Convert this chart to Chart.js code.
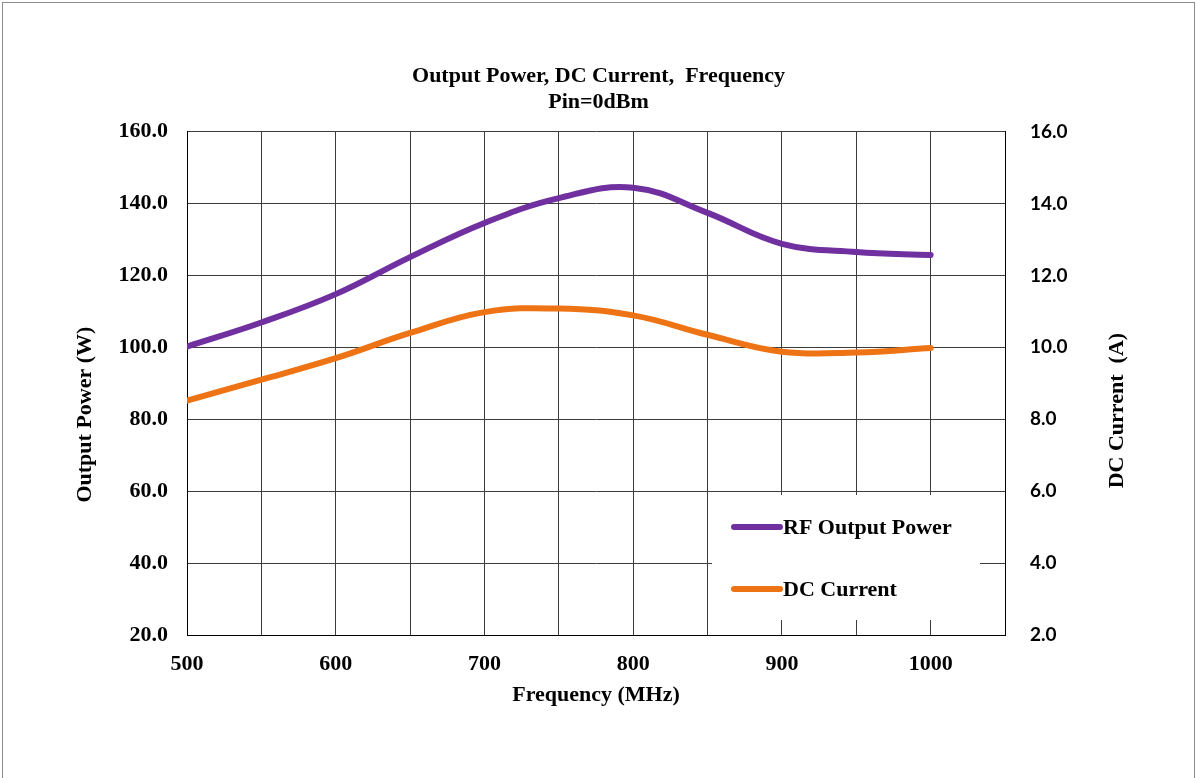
<!DOCTYPE html>
<html>
<head>
<meta charset="utf-8">
<script src="https://cdn.jsdelivr.net/npm/chart.js@4.4.0/dist/chart.umd.min.js"></script>
<style>
html, body { margin: 0; padding: 0; background: #fff; }
#wrap { position: relative; width: 1197px; height: 778px; overflow: hidden; }
#frame { position: absolute; left: 2px; top: 2px; width: 1191px; height: 800px; border: 1px solid #8c8c8c; pointer-events: none; }
</style>
</head>
<body>
<div id="wrap">
    <canvas id="chart" width="1197" height="778"></canvas>
    <div id="frame"></div>
</div>
<script>
// values, 50 MHz steps
const freqs = [500, 550, 600, 650, 700, 750, 800, 850, 900, 950, 1000];
const rfPower = [100.2, 106.9, 114.8, 125.1, 134.6, 141.5, 144.4, 137.4, 128.8, 126.5, 125.7];
const dcCurrent = [8.52, 9.10, 9.70, 10.40, 10.98, 11.08, 10.89, 10.35, 9.88, 9.86, 9.98];

const titleLines = ['Output Power, DC Current,  Frequency', 'Pin=0dBm'];
const xTitle = 'Frequency (MHz)';
const yTitle = 'Output Power (W)';
const y2Title = 'DC Current  (A)';
const seriesNames = ['RF Output Power', 'DC Current'];
const seriesColors = ['#7030A0', '#EE7314'];

const serif = 'Liberation Serif, Times New Roman, serif';
const gridColor = '#3c3c3c';

// legend box inside the plot and axis titles that read bottom-to-top
const extras = {
    id: 'extras',
    afterDraw(chart) {
        const ctx = chart.ctx;
        const ca = chart.chartArea;
        ctx.save();

        const bx = ca.right - 293, by = ca.bottom - 140;
        ctx.fillStyle = '#fff';
        ctx.fillRect(bx, by, 268, 125);

        ctx.font = 'bold 22px ' + serif;
        ctx.textBaseline = 'middle';
        ctx.textAlign = 'left';
        chart.data.datasets.forEach((ds, i) => {
            const ly = by + 32 + i * 62;
            ctx.strokeStyle = ds.borderColor;
            ctx.lineWidth = 6;
            ctx.lineCap = 'round';
            ctx.beginPath();
            ctx.moveTo(bx + 22, ly);
            ctx.lineTo(bx + 68, ly);
            ctx.stroke();
            ctx.fillStyle = '#000';
            ctx.fillText(ds.label, bx + 71, ly + 1);
        });

        ctx.textAlign = 'center';
        ctx.save();
        ctx.translate(ca.left - 102, ca.top + 283);
        ctx.rotate(-Math.PI / 2);
        ctx.fillText(yTitle, 0, 0);
        ctx.restore();

        ctx.save();
        ctx.translate(ca.right + 112, ca.top + 279);
        ctx.rotate(-Math.PI / 2);
        ctx.fillText(y2Title, 0, 0);
        ctx.restore();

        ctx.restore();
    }
};

const ctx = document.getElementById('chart').getContext('2d');
new Chart(ctx, {
    type: 'line',
    data: {
        datasets: [{
            label: seriesNames[0],
            data: freqs.map((f, i) => ({ x: f, y: rfPower[i] })),
            borderColor: seriesColors[0],
            borderWidth: 6,
            borderCapStyle: 'round',
            pointRadius: 0,
            tension: 0.4,
            yAxisID: 'y'
        }, {
            label: seriesNames[1],
            data: freqs.map((f, i) => ({ x: f, y: dcCurrent[i] })),
            borderColor: seriesColors[1],
            borderWidth: 6,
            borderCapStyle: 'round',
            pointRadius: 0,
            tension: 0.4,
            yAxisID: 'y2'
        }]
    },
    options: {
        responsive: false,
        animation: false,
        layout: { padding: 0 },
        plugins: {
            legend: { display: false },
            tooltip: { enabled: false },
            title: {
                display: true,
                text: titleLines,
                color: '#000',
                font: { family: serif, size: 22, weight: 'bold', lineHeight: 1.15 },
                padding: { top: 64, bottom: 17 }
            }
        },
        scales: {
            x: {
                type: 'linear',
                min: 500,
                max: 1050,
                grid: { color: gridColor, lineWidth: 1, drawTicks: false },
                border: { color: '#000', width: 1 },
                ticks: {
                    stepSize: 50,
                    autoSkip: false,
                    maxRotation: 0,
                    padding: 16,
                    color: '#000',
                    font: { family: serif, size: 22, weight: 'bold' },
                    callback: v => (v % 100 === 0 && v <= 1000) ? String(v) : ''
                },
                title: {
                    display: true,
                    text: xTitle,
                    color: '#000',
                    font: { family: serif, size: 22, weight: 'bold', lineHeight: 1.2 },
                    padding: { top: 0, bottom: 69 }
                },
                afterFit: s => { s.height = 143; }
            },
            y: {
                position: 'left',
                min: 20,
                max: 160,
                grid: { color: gridColor, lineWidth: 1, drawTicks: false },
                border: { color: '#000', width: 1 },
                ticks: {
                    stepSize: 20,
                    padding: 19,
                    color: '#000',
                    font: { family: serif, size: 22, weight: 'bold' },
                    callback: v => v.toFixed(1)
                },
                afterFit: s => { s.width = 187; }
            },
            y2: {
                position: 'right',
                min: 2,
                max: 16,
                grid: { drawOnChartArea: false, drawTicks: false },
                border: { color: '#000', width: 1 },
                ticks: {
                    stepSize: 2,
                    padding: 25,
                    color: '#000',
                    font: { family: 'Lato, Carlito, sans-serif', size: 19, weight: 'bold' },
                    callback: v => v.toFixed(1)
                },
                afterFit: s => { s.width = 192; }
            }
        }
    },
    plugins: [extras]
});
</script>
</body>
</html>
